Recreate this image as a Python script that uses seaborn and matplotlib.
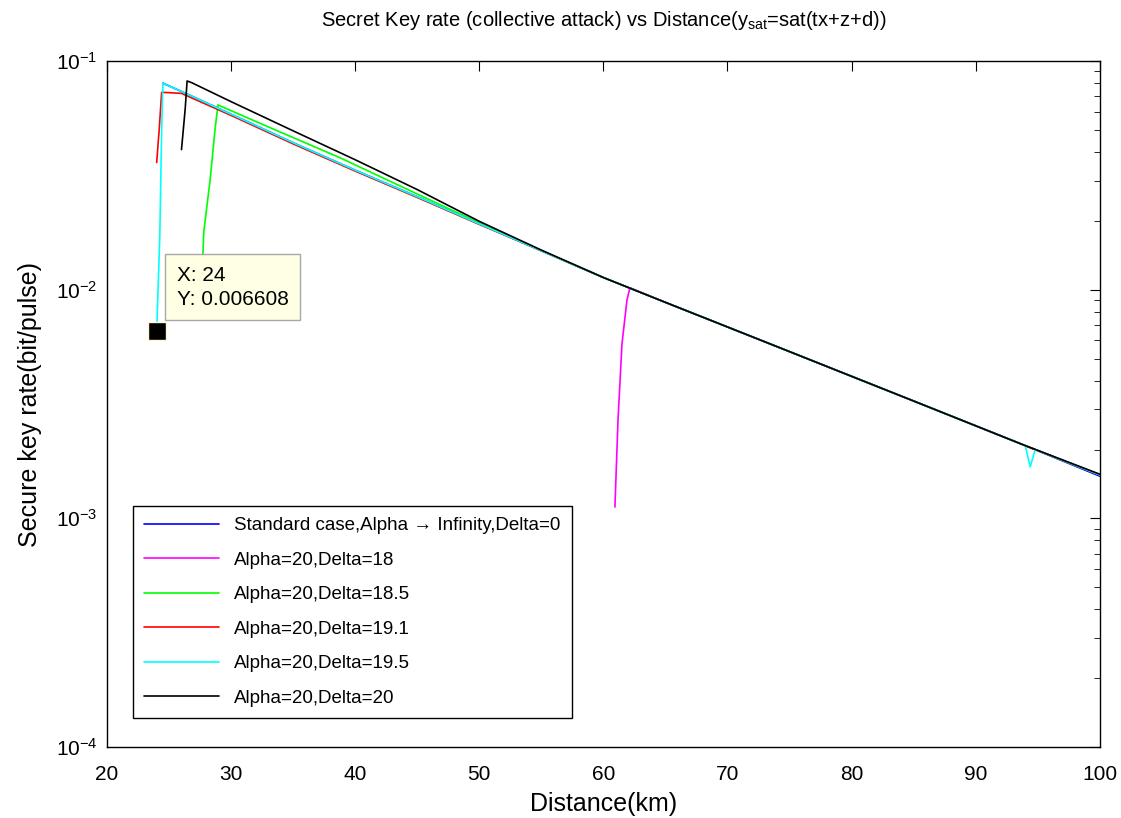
import numpy as np
import pandas as pd
import matplotlib
matplotlib.use("Agg")
import matplotlib.pyplot as plt
import seaborn as sns


# (distance in km, rate in bit/pulse)
TAIL_DIST = [65, 70, 75, 80, 85, 90, 94]
TAIL_RATE = [0.0088, 0.00687, 0.00536, 0.00418, 0.00326, 0.00254, 0.00208]

std_dist = [24.5, 26, 30, 35, 40, 45, 50, 55, 60] + TAIL_DIST + [100]
std_rate = [0.080, 0.0736, 0.0585, 0.0439, 0.0333, 0.0255, 0.0194, 0.0148, 0.0113] + TAIL_RATE + [0.00153]

d18_dist = [60.93, 61.18, 61.5, 61.9, 62.14] + TAIL_DIST + [100]
d18_rate = [0.00112, 0.0027, 0.0058, 0.0090, 0.0102] + TAIL_RATE + [0.00155]

d185_dist = [27.55, 27.8, 28.3, 28.7, 28.94, 29.3, 33, 38.8, 45, 50, 55, 60] + TAIL_DIST + [100]
d185_rate = [0.0085, 0.018, 0.030, 0.050, 0.0643, 0.0630, 0.0515, 0.0377, 0.0262, 0.0196, 0.0148, 0.0113] + TAIL_RATE + [0.00155]

d191_dist = [24.0, 24.2, 24.4, 26, 30, 35, 40, 45, 50, 55, 60] + TAIL_DIST + [100]
d191_rate = [0.036, 0.050, 0.073, 0.0722, 0.0578, 0.0434, 0.0330, 0.0253, 0.0193, 0.0148, 0.0113] + TAIL_RATE + [0.00155]

d195_dist = [24.0, 24.25, 24.4, 24.5, 26, 30, 35, 40, 45, 50, 55, 60] + TAIL_DIST + [94.4, 94.8, 100]
d195_rate = [0.0066, 0.017, 0.050, 0.080, 0.0736, 0.0585, 0.0439, 0.0333, 0.0255, 0.0194, 0.0148, 0.0113] + TAIL_RATE + [0.00168, 0.00200, 0.00155]

d20_dist = [26.0, 26.3, 26.45, 26.8, 30, 35, 40, 45, 50, 55, 60] + TAIL_DIST + [100]
d20_rate = [0.041, 0.062, 0.0818, 0.0805, 0.0664, 0.0495, 0.0370, 0.0274, 0.0199, 0.0149, 0.0113] + TAIL_RATE + [0.00156]

LABELS = [
    "Standard case,Alpha \u2192 Infinity,Delta=0",
    "Alpha=20,Delta=18",
    "Alpha=20,Delta=18.5",
    "Alpha=20,Delta=19.1",
    "Alpha=20,Delta=19.5",
    "Alpha=20,Delta=20",
]
COLORS = ["#0000ff", "#ff00ff", "#00ff00", "#ff0000", "#00ffff", "#000000"]

TIP_X = 24
TIP_Y = 0.006608

series = [
    (std_dist, std_rate), (d18_dist, d18_rate), (d185_dist, d185_rate),
    (d191_dist, d191_rate), (d195_dist, d195_rate), (d20_dist, d20_rate),
]
frames = []
for label, (d, r) in zip(LABELS, series):
    frames.append(pd.DataFrame({"dist": d, "rate": r, "case": label}))
df = pd.concat(frames, ignore_index=True)

sns.set_style("white")
plt.rcParams["font.family"] = ["Liberation Sans", "DejaVu Sans"]
plt.rcParams["mathtext.default"] = "regular"
plt.rcParams["text.color"] = "black"
plt.rcParams["axes.labelcolor"] = "black"

fig = plt.figure(figsize=(11.21, 8.18), dpi=100)
ax = fig.add_axes([0.0955, 0.0868, 0.8855, 0.8386])

sns.lineplot(data=df, x="dist", y="rate", hue="case", hue_order=LABELS,
             palette=dict(zip(LABELS, COLORS)), estimator=None, sort=False,
             linewidth=1.2, ax=ax)

ax.set_yscale("log")
ax.set_xlim(20, 100)
ax.set_ylim(1e-4, 1e-1)
ax.set_xticks(range(20, 101, 10))

for s in ax.spines.values():
    s.set_color("black")
    s.set_linewidth(1.0)
ax.tick_params(which="both", direction="in", top=True, right=True, colors="black", labelsize=15)
ax.tick_params(which="major", length=7)
ax.tick_params(which="minor", length=4)
ax.tick_params(axis="x", pad=13)
ax.tick_params(axis="y", pad=7)

ax.set_xlabel("Distance(km)", fontsize=18, labelpad=6)
ax.set_ylabel("Secure key rate(bit/pulse)", fontsize=18, labelpad=10)
ax.set_title(r"Secret Key rate (collective attack) vs Distance(y$_{sat}$=sat(tx+z+d))", fontsize=14.5, pad=25)

handles, labels = ax.get_legend_handles_labels()
leg = ax.legend(handles, labels, loc="lower left", bbox_to_anchor=(0.026, 0.042),
                borderaxespad=0, fontsize=13.5, frameon=True, fancybox=False,
                framealpha=1, edgecolor="black", handlelength=4.0,
                handletextpad=0.8, labelspacing=0.93, borderpad=0.6)
leg.get_frame().set_linewidth(1.0)

# data tip
ax.plot([TIP_X], [TIP_Y], marker="s", markersize=13, color="black",
        markeredgecolor="#fff8d0", zorder=5)
ax.annotate(f"X: {TIP_X}\nY: {TIP_Y}", xy=(TIP_X, TIP_Y), xytext=(20, 22),
            textcoords="offset pixels", ha="left", va="bottom", fontsize=15,
            linespacing=1.35,
            bbox=dict(boxstyle="square,pad=0.55", fc="#ffffe4", ec="#a8a8a8", lw=1),
            zorder=6)

fig.savefig("out.png", dpi=100)
